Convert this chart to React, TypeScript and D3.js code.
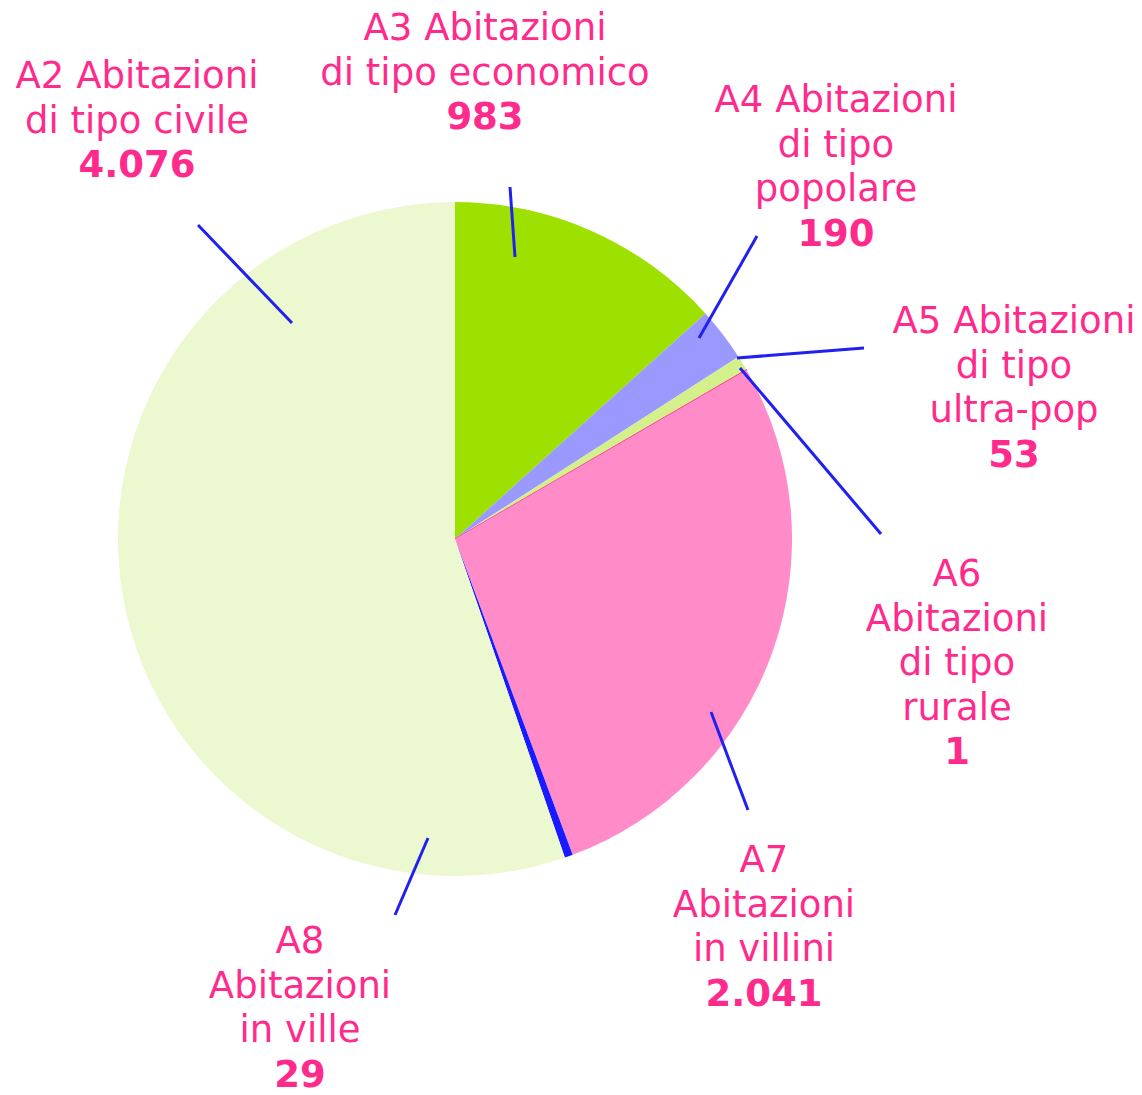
import React from "react";
import * as d3 from "d3";

const categories = ["A3", "A4", "A5", "A6", "A7", "A8", "A2"];
const values = [983, 190, 53, 1, 2041, 29, 4076];
const labelLines = [
  ["A3 Abitazioni", "di tipo economico"],
  ["A4 Abitazioni", "di tipo", "popolare"],
  ["A5 Abitazioni", "di tipo", "ultra-pop"],
  ["A6", "Abitazioni", "di tipo", "rurale"],
  ["A7", "Abitazioni", "in villini"],
  ["A8", "Abitazioni", "in ville"],
  ["A2 Abitazioni", "di tipo civile"],
];
const valueLabels = ["983", "190", "53", "1", "2.041", "29", "4.076"];
const colors = ["#9ee000", "#9999ff", "#d4f08a", "#ff3399", "#ff8cc8", "#1a1aff", "#ebf8d0"];

// layout: label centre x, first baseline y; leader inner & outer points
const labelPos = [
  [485, 40], [836, 112], [1014, 333], [957, 586], [764, 872], [300, 953], [137, 88],
];
const leaders = [
  [[515, 257], [510, 187]],
  [[699, 338], [757, 236]],
  [[737, 358], [864, 348]],
  [[740, 368], [881, 534]],
  [[711, 712], [748, 810]],
  [[428, 838], [395, 915]],
  [[292, 323], [198, 225]],
];

const CX = 455, CY = 539, R = 337;
const FONT = 37, LH = 44.6;
const TEXT_COLOR = "#ff2b8c";

export default function App() {
  const pie = d3.pie<number>().sort(null).value((d) => d)(values);
  const arc = d3.arc<d3.PieArcDatum<number>>().innerRadius(0).outerRadius(R);
  return (
    <svg width={1142} height={1095} style={{ position: "absolute", left: 0, top: 0 }}
      fontFamily="'DejaVu Sans', Verdana, sans-serif">
      <rect width={1142} height={1095} fill="#fff" />
      <g transform={`translate(${CX},${CY})`}>
        {pie.map((p, i) => (
          <path key={categories[i]} d={arc(p) || ""} fill={colors[i]}
            stroke={values[i] < 5 ? colors[i] : "none"} strokeWidth={values[i] < 5 ? 1.2 : 0} />
        ))}
      </g>
      {leaders.map((l, i) => (
        <line key={"l" + i} x1={l[0][0]} y1={l[0][1]} x2={l[1][0]} y2={l[1][1]}
          stroke="#2020f0" strokeWidth={3} />
      ))}
      {labelLines.map((lines, i) => (
        <text key={"t" + i} textAnchor="middle" fontSize={FONT} fill={TEXT_COLOR}>
          {lines.map((s, j) => (
            <tspan key={j} x={labelPos[i][0]} y={labelPos[i][1] + j * LH}>{s}</tspan>
          ))}
          <tspan x={labelPos[i][0]} y={labelPos[i][1] + lines.length * LH} fontWeight="bold">
            {valueLabels[i]}
          </tspan>
        </text>
      ))}
    </svg>
  );
}
